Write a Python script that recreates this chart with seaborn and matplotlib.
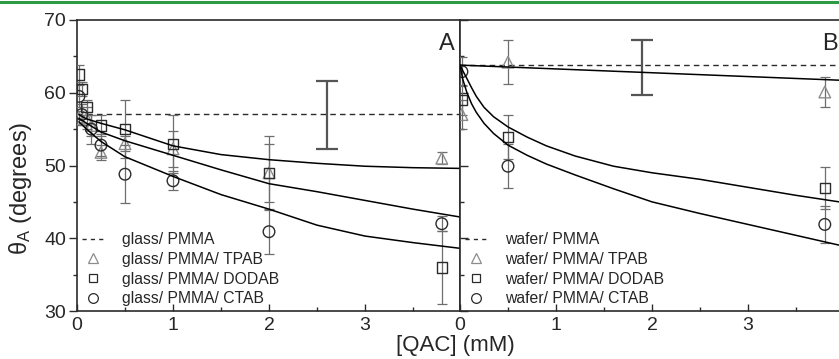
import numpy as np
import pandas as pd
import matplotlib
matplotlib.use('Agg')
import matplotlib.pyplot as plt
from matplotlib.lines import Line2D
from matplotlib.ticker import MultipleLocator
import seaborn as sns

sns.set_style('ticks')
plt.rcParams['font.family'] = ['Liberation Sans', 'DejaVu Sans']
plt.rcParams['mathtext.default'] = 'regular'

# ── DATA: panel A (glass) ──
glass_ref_y = 57.1
glass_ref_bar_x = [2.6]
glass_ref_bar_y = [56.9]
glass_ref_bar_err = [4.7]

glass_tpab_x = [0.02, 0.1, 0.15, 0.25, 0.5, 1.0, 2.0, 3.8]
glass_tpab_y = [56.5, 56.5, 55.5, 51.8, 53.0, 52.3, 49.0, 51.0]
glass_tpab_err = [1.0, 1.5, 1.5, 1.0, 1.0, 2.5, 5.0, 0.8]

glass_dodab_x = [0.02, 0.05, 0.1, 0.25, 0.5, 1.0, 2.0, 3.8]
glass_dodab_y = [62.5, 60.5, 58.0, 55.5, 55.0, 53.0, 49.0, 36.0]
glass_dodab_err = [1.3, 1.0, 1.0, 1.5, 4.0, 4.0, 4.0, 5.0]

glass_ctab_x = [0.02, 0.05, 0.15, 0.25, 0.5, 1.0, 2.0, 3.8]
glass_ctab_y = [59.5, 57.0, 55.0, 52.8, 48.8, 47.9, 40.9, 42.0]
glass_ctab_err = [1.5, 1.5, 2.0, 1.5, 4.0, 1.3, 3.0, 1.0]

glass_fit_x = [0.02, 0.1, 0.25, 0.5, 1.0, 1.5, 2.0, 2.5, 3.0, 3.5, 4.0]
glass_fit_dodab = [57.0, 56.4, 55.8, 54.9, 52.7, 51.5, 50.8, 50.3, 49.9, 49.7, 49.6]
glass_fit_tpab = [56.5, 55.8, 54.6, 53.4, 51.4, 49.4, 47.5, 46.4, 45.2, 44.0, 42.9]
glass_fit_ctab = [56.0, 55.0, 53.3, 51.2, 48.5, 46.0, 44.0, 41.8, 40.3, 39.4, 38.6]

# ── DATA: panel B (wafer) ──
wafer_ref_y = 63.8
wafer_ref_bar_x = [1.9]
wafer_ref_bar_y = [63.5]
wafer_ref_bar_err = [3.8]

wafer_tpab_x = [0.02, 0.5, 3.8]
wafer_tpab_y = [57.0, 64.2, 60.1]
wafer_tpab_err = [2.0, 3.0, 2.0]

wafer_dodab_x = [0.02, 0.5, 3.8]
wafer_dodab_y = [59.0, 53.9, 46.9]
wafer_dodab_err = [2.0, 3.0, 2.9]

wafer_ctab_x = [0.02, 0.5, 3.8]
wafer_ctab_y = [62.9, 49.9, 41.9]
wafer_ctab_err = [2.0, 3.0, 2.6]

wafer_fit_x = [0.0, 0.03, 0.07, 0.12, 0.17, 0.25, 0.35, 0.5, 0.7, 0.9, 1.2, 1.6, 2.0, 2.5, 3.0, 3.5, 4.0]
wafer_fit_dodab = [63.8, 63.0, 62.0, 60.7, 59.5, 58.0, 56.7, 55.3, 53.9, 52.7, 51.3, 49.9, 49.0, 48.1, 47.0, 45.9, 44.9]
wafer_fit_ctab = [63.8, 61.8, 60.1, 58.5, 57.3, 55.8, 54.4, 52.8, 51.4, 50.2, 48.7, 46.8, 45.0, 43.4, 41.9, 40.4, 38.9]
wafer_fit_tpab_x = [0.0, 4.0]
wafer_fit_tpab = [63.8, 61.7]

W, H = 839, 359
fig = plt.figure(figsize=(W / 100, H / 100), dpi=100)
axA = fig.add_axes([77 / W, 1 - 311 / H, 383 / W, 291 / H])
axB = fig.add_axes([460 / W, 1 - 311 / H, 384 / W, 291 / H])

DARK = '#2b2b2b'
GRAY = '#6e6e6e'
LIGHT = '#8c8c8c'


def draw_panel(ax, ref_y, ref_bx, ref_by, ref_be, series, fits, label, prefix):
    ax.axhline(ref_y, color=DARK, lw=1.0, ls=(0, (4, 3)), zorder=2)
    ax.errorbar(ref_bx, ref_by, yerr=ref_be, fmt='none', ecolor='#555555',
                elinewidth=1.6, capsize=8, capthick=1.6, zorder=2)
    for xs, ys, es, marker, ec, s in series:
        ax.errorbar(xs, ys, yerr=es, fmt='none', ecolor=GRAY, elinewidth=0.9,
                    capsize=3.5, capthick=0.9, zorder=3)
        sns.scatterplot(x=xs, y=ys, marker=marker, s=s, facecolors='none',
                        edgecolor=ec, linewidth=1.0, ax=ax, zorder=4, legend=False)
    for fx, fy in fits:
        df = pd.DataFrame({'x': fx, 'y': fy})
        sns.lineplot(data=df, x='x', y='y', color='black', lw=1.1, ax=ax,
                     zorder=5, legend=False)
    ax.set_ylim(30, 70)
    ax.set_xlabel('')
    ax.set_ylabel('')
    ax.text(0.985, 0.955, label, transform=ax.transAxes, ha='right', va='top',
            fontsize=17)
    handles = [
        Line2D([], [], color=DARK, lw=1.0, ls=(0, (3, 3))),
        Line2D([], [], ls='none', marker='^', ms=7, mfc='none', mec=LIGHT, mew=0.9),
        Line2D([], [], ls='none', marker='s', ms=6, mfc='none', mec=DARK, mew=0.9),
        Line2D([], [], ls='none', marker='o', ms=7, mfc='none', mec=DARK, mew=0.9),
    ]
    labels = [prefix + '/ PMMA', prefix + '/ PMMA/ TPAB',
              prefix + '/ PMMA/ DODAB', prefix + '/ PMMA/ CTAB']
    ax.legend(handles, labels, loc='lower left', bbox_to_anchor=(0.0, 0.0),
              frameon=False, fontsize=11.3, handlelength=1.5, handletextpad=1.05,
              labelspacing=0.3, borderpad=0.3, borderaxespad=0.0)
    for sp in ax.spines.values():
        sp.set_color(DARK)
        sp.set_linewidth(1.2)
    ax.xaxis.set_major_locator(MultipleLocator(1))
    ax.xaxis.set_minor_locator(MultipleLocator(0.5))
    ax.yaxis.set_major_locator(MultipleLocator(10))
    ax.yaxis.set_minor_locator(MultipleLocator(5))
    ax.tick_params(axis='x', which='major', direction='in', length=5, width=1,
                   labelsize=14, pad=4, color=DARK)
    ax.tick_params(axis='x', which='minor', direction='in', length=3, width=1,
                   color=DARK)


draw_panel(axA, glass_ref_y, glass_ref_bar_x, glass_ref_bar_y, glass_ref_bar_err,
           [(glass_tpab_x, glass_tpab_y, glass_tpab_err, '^', LIGHT, 70),
            (glass_dodab_x, glass_dodab_y, glass_dodab_err, 's', DARK, 55),
            (glass_ctab_x, glass_ctab_y, glass_ctab_err, 'o', DARK, 70)],
           [(glass_fit_x, glass_fit_dodab), (glass_fit_x, glass_fit_tpab),
            (glass_fit_x, glass_fit_ctab)], 'A', 'glass')
draw_panel(axB, wafer_ref_y, wafer_ref_bar_x, wafer_ref_bar_y, wafer_ref_bar_err,
           [(wafer_tpab_x, wafer_tpab_y, wafer_tpab_err, '^', LIGHT, 70),
            (wafer_dodab_x, wafer_dodab_y, wafer_dodab_err, 's', DARK, 55),
            (wafer_ctab_x, wafer_ctab_y, wafer_ctab_err, 'o', DARK, 70)],
           [(wafer_fit_tpab_x, wafer_fit_tpab), (wafer_fit_x, wafer_fit_dodab),
            (wafer_fit_x, wafer_fit_ctab)], 'B', 'wafer')

axA.set_xlim(0, 383 / 96)
axA.set_xticks([0, 1, 2, 3])
axA.tick_params(axis='y', which='major', direction='out', length=6, width=1,
                labelsize=14, pad=2, color=DARK)
axA.tick_params(axis='y', which='minor', direction='out', length=3, width=1,
                color=DARK)
axA.set_ylabel(r'θ$_{A}$ (degrees)', fontsize=17)
axA.yaxis.set_label_coords(-0.112, 0.42)

axB.set_xlim(0, 4)
axB.set_xticks([0, 1, 2, 3])
axB.tick_params(axis='y', which='major', direction='in', length=6, width=1,
                labelleft=False, color=DARK)
axB.tick_params(axis='y', which='minor', direction='in', length=3, width=1,
                color=DARK)

fig.text(455 / W, 1 - 345 / H, '[QAC] (mM)', ha='center', va='center', fontsize=16)
fig.add_artist(Line2D([0, 1], [1 - 2 / H, 1 - 2 / H], color='#2e9a45', lw=2.2,
                      transform=fig.transFigure))

fig.savefig('out.png', dpi=100)
